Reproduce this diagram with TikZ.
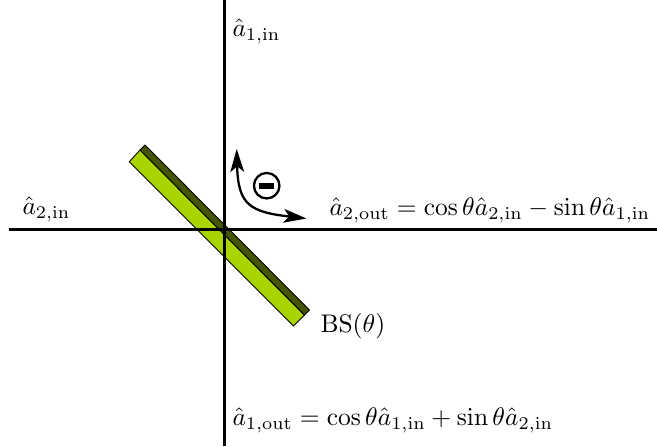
\documentclass[tikz,border=0pt]{standalone}
\usetikzlibrary{arrows.meta,calc}
\usepackage{amsmath}
\definecolor{colBar}{HTML}{AAD400}
\definecolor{colCoat}{HTML}{445500}
\def\lblfont{\fontsize{10pt}{12pt}\selectfont}
\tikzset{
  beam/.style={draw=black, line width=0.8pt},
  plate/.style={draw=black, line width=0.35pt},
  lbl/.style={anchor=west, font=\lblfont, inner sep=0pt},
  turn/.style={draw=black, line width=0.9pt, {Stealth[length=9pt,width=5.4pt,inset=2.2pt]}-{Stealth[length=9pt,width=5.4pt,inset=2.2pt]}}
}
\begin{document}
\begin{tikzpicture}[x=0.01379cm,y=-0.01379cm]
\useasboundingbox (0,0) rectangle (657,446);
% ===================== BEAM SPLITTER =====================
\fill[colBar, plate] (140,150) -- (304.5,315) -- (293.5,326) -- (129.3,161.7) -- cycle;
\fill[colCoat, plate] (145,145) -- (309.5,310) -- (304.5,315) -- (140,150) -- cycle;
% ===================== AXES =====================
\coordinate (inL) at (9,229.5);
\coordinate (outR) at (657,229.5);
\coordinate (inT) at (224.5,0);
\coordinate (outB) at (224.5,446);
\draw[beam] (inL) -- (outR);
\draw[beam] (inT) -- (outB);
% ===================== SIGN ARROW =====================
\coordinate (turnA) at (236.7,149);
\coordinate (turnB) at (306.5,218.5);
\draw[turn] (turnA) .. controls (238,205) and (250,212) .. (turnB);
\node[circle, draw=black, line width=0.9pt, minimum size=25.5*0.01379cm, inner sep=0pt] (sign) at (266.7,185.7) {};
\fill[black] ($(sign)+(-7.5,-2.8)$) rectangle ($(sign)+(7.5,2.8)$);
% ===================== LABELS =====================
\node[lbl] (a1in) at (232,31) {$\hat{a}_{1,\mathrm{in}}$};
\node[lbl] (a2in) at (22,209) {$\hat{a}_{2,\mathrm{in}}$};
\node[lbl] (a2out) at (329,210.5) {$\hat{a}_{2,\mathrm{out}}=\cos\theta\hat{a}_{2,\mathrm{in}}-\sin\theta\hat{a}_{1,\mathrm{in}}$};
\node[lbl] (bs) at (320,326.5) {$\mathrm{BS}(\theta)$};
\node[lbl] (a1out) at (232,420.5) {$\hat{a}_{1,\mathrm{out}}=\cos\theta\hat{a}_{1,\mathrm{in}}+\sin\theta\hat{a}_{2,\mathrm{in}}$};
\end{tikzpicture}
\end{document}
